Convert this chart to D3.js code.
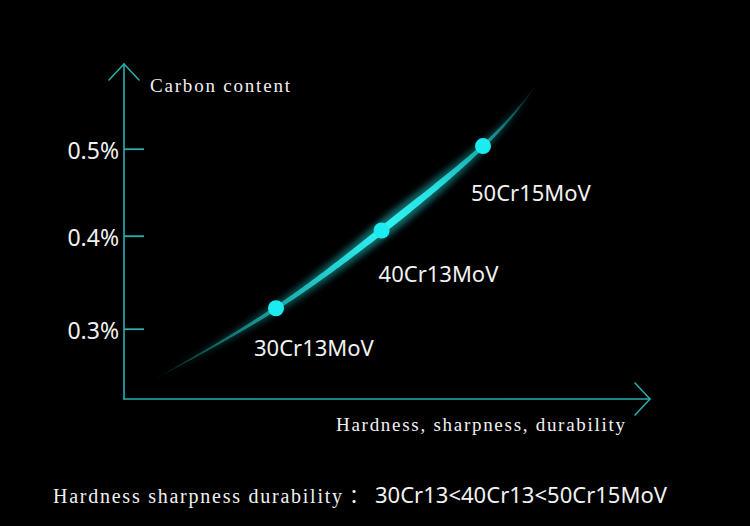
<!DOCTYPE html>
<html><head><meta charset="utf-8">
<script src="https://cdn.jsdelivr.net/npm/d3@7"></script>
<style>html,body{margin:0;padding:0;background:#000;} svg{display:block}</style>
</head><body>
<svg id="chart" width="750" height="526"></svg>
<script>
// ---- data ----
const grades = ["30Cr13MoV", "40Cr13MoV", "50Cr15MoV"];
const hardnessIndex = [1, 2.02, 3];
const carbonContent = [0.322, 0.406, 0.503];
const yTickValues = [0.3, 0.4, 0.5];
const trendHardness = [-0.15, 1, 2.02, 3, 3.52];
const trendCarbon = [0.247, 0.322, 0.406, 0.503, 0.574];
const yAxisTitle = "Carbon content";
const xAxisTitle = "Hardness, sharpness, durability";
const footnoteLabel = "Hardness sharpness durability";
const footnoteSep = "：";
const footnoteOrder = "30Cr13<40Cr13<50Cr15MoV";

// ---- layout ----
const W = 750, H = 526;
const originX = 124, originY = 399, yTop = 64, xRight = 650;
const axisColor = "#2aaeae";
const serifFont = "'Liberation Serif', 'DejaVu Serif', serif";
const sansFont = "'Noto Sans', 'Noto Sans CJK SC', sans-serif";

const svg = d3.select("#chart");
svg.append("rect").attr("width", W).attr("height", H).attr("fill", "#000");
const defs = svg.append("defs");

const x = d3.scaleLinear().domain([1, 3]).range([276, 483]);
const y = d3.scaleLinear().domain([0.3, 0.4, 0.5]).range([328.7, 235.7, 148.7]);

// ---- axes ----
const axisG = svg.append("g").attr("fill", "none").attr("stroke", axisColor)
  .attr("stroke-width", 1.6).attr("stroke-linecap", "round").attr("stroke-linejoin", "round");
axisG.append("path").attr("d", d3.line()([[originX, originY], [originX, yTop]]));
axisG.append("path").attr("d", d3.line()([[originX - 15, yTop + 16], [originX, yTop], [originX + 15, yTop + 16]]));
axisG.append("path").attr("d", d3.line()([[originX, originY], [xRight, originY]]));
axisG.append("path").attr("d", d3.line()([[xRight - 15, originY - 16], [xRight, originY], [xRight - 15, originY + 16]]));

const yAxis = d3.axisLeft(y).tickValues(yTickValues).tickSize(-20).tickPadding(5)
  .tickFormat(d => d.toFixed(1) + "%");
const yg = svg.append("g").attr("transform", `translate(${originX},0)`).call(yAxis);
yg.select(".domain").remove();
yg.selectAll(".tick line").attr("stroke", axisColor).attr("stroke-width", 1.8);
yg.selectAll(".tick text").attr("fill", "#f2f2f2").attr("font-family", sansFont)
  .attr("font-size", 23).attr("dy", "0.43em");

svg.append("text").attr("x", 150).attr("y", 92).attr("fill", "#f0f0f0")
  .attr("font-family", serifFont).attr("font-size", 19)
  .attr("textLength", 140).attr("lengthAdjust", "spacing").text(yAxisTitle);
svg.append("text").attr("x", 336).attr("y", 431).attr("fill", "#f0f0f0")
  .attr("font-family", serifFont).attr("font-size", 19)
  .attr("textLength", 289).attr("lengthAdjust", "spacing").text(xAxisTitle);

// ---- glowing trend curve ----
const pts = trendHardness.map((h, i) => [h, trendCarbon[i]]);
const line = d3.line().x(d => x(d[0])).y(d => y(d[1])).curve(d3.curveNatural);
const guide = svg.append("path").attr("d", line(pts)).attr("fill", "none").attr("stroke", "none");
const node = guide.node();
const L = node.getTotalLength();
const N = 300;
const samples = d3.range(N + 1).map(i => { const p = node.getPointAtLength(L * i / N); return [p.x, p.y]; });
const widthAt = d3.scaleLinear()
  .domain([0, 0.12, 0.286, 0.45, 0.6, 0.72, 0.83, 0.93, 1])
  .range([0.4, 1.8, 4, 5.8, 7.5, 6, 3.8, 1.8, 0.4]);
function ribbon(scale) {
  const left = [], right = [];
  samples.forEach((p, i) => {
    const a = samples[Math.max(0, i - 1)], b = samples[Math.min(N, i + 1)];
    const dx = b[0] - a[0], dy = b[1] - a[1];
    const len = Math.hypot(dx, dy) || 1;
    const nx = -dy / len, ny = dx / len;
    const w = widthAt(i / N) * scale / 2;
    left.push([p[0] + nx * w, p[1] + ny * w]);
    right.push([p[0] - nx * w, p[1] - ny * w]);
  });
  return d3.line()(left.concat(right.reverse())) + "Z";
}
const s0 = samples[0], s1 = samples[N];
const vx = s1[0] - s0[0], vy = s1[1] - s0[1], vv = vx * vx + vy * vy;
const proj = (px, py) => ((px - s0[0]) * vx + (py - s0[1]) * vy) / vv;
const dotProj = hardnessIndex.map((h, i) => proj(x(h), y(carbonContent[i])));
const grad = defs.append("linearGradient").attr("id", "curveGrad")
  .attr("gradientUnits", "userSpaceOnUse")
  .attr("x1", s0[0]).attr("y1", s0[1]).attr("x2", s1[0]).attr("y2", s1[1]);
[
  [0, "#0a4a46", 0.15],
  [0.08, "#0f605a", 0.8],
  [dotProj[0], "#1aa6a6", 1],
  [(dotProj[0] + dotProj[1]) / 2, "#22d0d0", 1],
  [dotProj[1], "#30f2f2", 1],
  [(dotProj[1] + dotProj[2]) / 2, "#28e2e2", 1],
  [dotProj[2], "#18a8a8", 1],
  [0.93, "#0f6464", 0.85],
  [1, "#083c3c", 0.1]
].forEach(s => grad.append("stop").attr("offset", s[0]).attr("stop-color", s[1]).attr("stop-opacity", s[2]));

const blur = defs.append("filter").attr("id", "glow").attr("x", "-20%").attr("y", "-20%").attr("width", "140%").attr("height", "140%");
blur.append("feGaussianBlur").attr("stdDeviation", 3);

svg.append("path").attr("d", ribbon(2.4)).attr("fill", "url(#curveGrad)").attr("opacity", 0.45).attr("filter", "url(#glow)");
svg.append("path").attr("d", ribbon(1)).attr("fill", "url(#curveGrad)");

// ---- points and labels ----
const labelDx = [-22, -3, -12], labelDy = [48, 52, 55];
const pg = svg.append("g");
pg.selectAll("circle").data(grades).join("circle")
  .attr("cx", (d, i) => x(hardnessIndex[i])).attr("cy", (d, i) => y(carbonContent[i]))
  .attr("r", 8).attr("fill", "#1cecf0");
pg.selectAll("text").data(grades).join("text")
  .attr("x", (d, i) => x(hardnessIndex[i]) + labelDx[i])
  .attr("y", (d, i) => y(carbonContent[i]) + labelDy[i])
  .attr("fill", "#f2f2f2").attr("font-family", sansFont).attr("font-size", 22)
  .text(d => d);

// ---- footnote ----
svg.append("text").attr("x", 53).attr("y", 503).attr("fill", "#f0f0f0")
  .attr("font-family", serifFont).attr("font-size", 20)
  .attr("textLength", 289).attr("lengthAdjust", "spacing").text(footnoteLabel);
svg.append("text").attr("x", 359).attr("y", 503).attr("fill", "#f0f0f0")
  .attr("text-anchor", "middle")
  .attr("font-family", "'Noto Sans CJK SC', sans-serif").attr("font-size", 20).text(footnoteSep);
svg.append("text").attr("x", 375).attr("y", 503).attr("fill", "#f2f2f2")
  .attr("font-family", sansFont).attr("font-size", 22)
  .attr("textLength", 292).attr("lengthAdjust", "spacingAndGlyphs").text(footnoteOrder);
</script>
</body></html>
